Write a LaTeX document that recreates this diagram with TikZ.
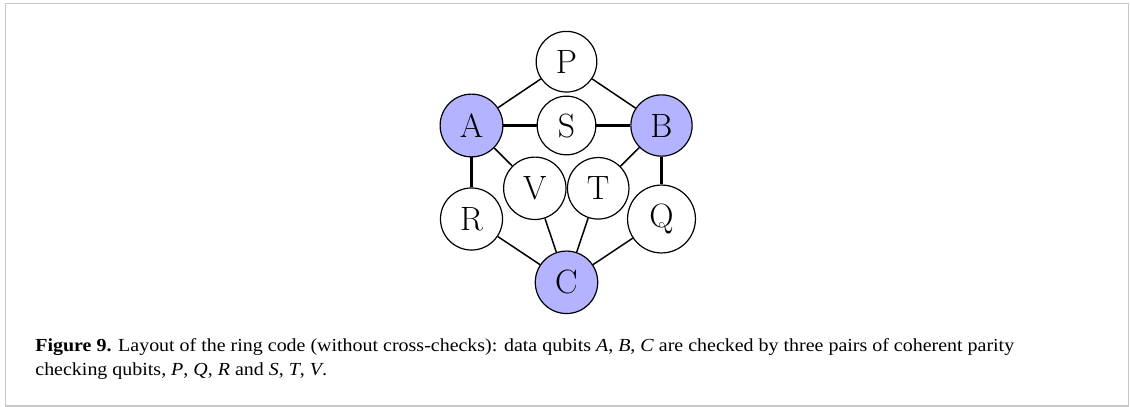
\documentclass[tikz,border=0pt]{standalone}
\usepackage{fontspec}
\newfontfamily\capfont[FakeStretch=1.085]{Liberation Serif}
\begin{document}
\begin{tikzpicture}[x=0.5pt,y=-0.5pt,
  qubit/.style={circle,draw,line width=0.6pt,inner sep=5.2pt,font=\fontsize{16.85}{20}\selectfont,fill=white},
  data/.style={qubit,fill=datafill},
  link/.style={line width=0.75pt},
  straightlink/.style={line width=1.1pt},
  captext/.style={anchor=base west,inner sep=0pt,font=\capfont\fontsize{9.2}{11}\selectfont}]
\definecolor{datafill}{RGB}{179,179,255}
\definecolor{framegray}{RGB}{200,200,200}
\useasboundingbox (0,0) rectangle (1130,407);
\draw[framegray,line width=0.9pt] (5.5,3.5) rectangle (1128.5,406);
\node[qubit] (P) at (566.5,61.7) {P};
\node[data]  (A) at (471.5,125.5) {A};
\node[qubit] (S) at (566.5,125.5) {S};
\node[data]  (B) at (661.5,125.5) {B};
\node[qubit] (V) at (534.8,188.3) {V};
\node[qubit] (T) at (598.2,188.3) {T};
\node[qubit] (R) at (471.5,219) {R};
\node[qubit] (Q) at (661.5,219) {Q};
\node[data]  (C) at (566.5,282.3) {C};
\draw[link] (A) -- (P);
\draw[link] (P) -- (B);
\draw[straightlink] (A) -- (S);
\draw[straightlink] (S) -- (B);
\draw[link] (A) -- (V);
\draw[link] (B) -- (T);
\draw[straightlink] (A) -- (R);
\draw[straightlink] (B) -- (Q);
\draw[link] (R) -- (C);
\draw[link] (V) -- (C);
\draw[link] (T) -- (C);
\draw[link] (Q) -- (C);
\node[captext] (cap1) at (35,351) {\textbf{Figure 9.} Layout of the ring code (without cross-checks): data qubits \textit{A}, \textit{B}, \textit{C} are checked by three pairs of coherent parity};
\node[captext] (cap2) at (35,375) {checking qubits, \textit{P}, \textit{Q}, \textit{R} and \textit{S}, \textit{T}, \textit{V}.};
\end{tikzpicture}
\end{document}
